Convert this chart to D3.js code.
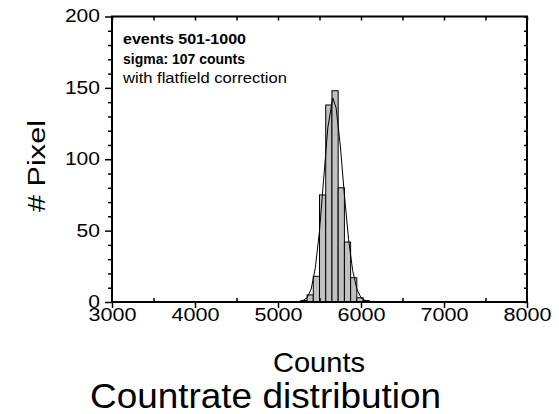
<!DOCTYPE html>
<html>
<head>
<meta charset="utf-8">
<script src="https://cdn.jsdelivr.net/npm/d3@7"></script>
<style>
  body { margin: 0; background: #fff; }
  text { font-family: "Liberation Sans", Arial, sans-serif; fill: #000; }
</style>
</head>
<body>
<script>
// histogram bins (left edge, width 75 counts) and pixel counts
const binStarts = [5275, 5350, 5425, 5500, 5575, 5650, 5725, 5800, 5875, 5950, 6025];
const binWidth = 75;
const binCounts = [1, 5, 18, 75, 138, 148, 80, 42, 17, 3, 1];

// gaussian fit curve
const fitX = [5250, 5300, 5350, 5400, 5450, 5500, 5550, 5600, 5660, 5700, 5750, 5800, 5850, 5900, 5950, 6000, 6050, 6100];
const fitY = [0, 1, 3, 9, 24, 50, 86, 122, 143, 136, 110, 75, 44, 22, 9, 3, 1, 0];

const xMajor = [3000, 4000, 5000, 6000, 7000, 8000];
const xMinor = [3500, 4500, 5500, 6500, 7500];
const yMajor = [0, 50, 100, 150, 200];

const notes = ["events 501-1000", "sigma: 107 counts", "with flatfield correction"];

const W = 559, H = 414;
const pLeft = 112, pRight = 527, pTop = 16.5, pBottom = 302;

const svg = d3.select("body").append("svg").attr("width", W).attr("height", H);

const x = d3.scaleLinear().domain([3000, 8000]).range([pLeft, pRight]);
const y = d3.scaleLinear().domain([0, 200]).range([pBottom, pTop]);

// bars
svg.append("g").selectAll("rect").data(binStarts).enter().append("rect")
    .attr("x", d => x(d))
    .attr("y", (d, i) => y(binCounts[i]))
    .attr("width", d => x(d + binWidth) - x(d))
    .attr("height", (d, i) => y(0) - y(binCounts[i]))
    .attr("fill", "#c0c0c0")
    .attr("stroke", "#000")
    .attr("stroke-width", 1);

// fit line
let line = d3.line().x(d => x(d[0])).y(d => y(d[1]));
svg.append("path").datum(fitX.map((v, i) => [v, fitY[i]]))
    .attr("d", line).attr("fill", "none").attr("stroke", "#000").attr("stroke-width", 1);

// frame
svg.append("rect").attr("x", pLeft).attr("y", pTop).attr("width", pRight - pLeft).attr("height", pBottom - pTop)
    .attr("fill", "none").attr("stroke", "#000").attr("stroke-width", 2);

function plain(g) {
    g.select(".domain").remove();
    g.selectAll(".tick line").attr("stroke", "#000").attr("stroke-width", 1.5);
}

// bottom axis
let xAxis = svg.append("g").attr("transform", `translate(0,${pBottom})`)
    .call(d3.axisBottom(x).tickValues(xMajor).tickSize(6).tickFormat(d3.format("d")));
plain(xAxis);
xAxis.selectAll("text").attr("y", 6).attr("font-size", 18)
    .attr("textLength", d => String(d).length * 12).attr("lengthAdjust", "spacingAndGlyphs");

svg.append("g").attr("transform", `translate(0,${pBottom})`)
    .call(d3.axisTop(x).tickValues(xMinor).tickSize(4).tickFormat(""))
    .call(plain);

// top ticks
svg.append("g").attr("transform", `translate(0,${pTop})`)
    .call(d3.axisBottom(x).tickValues(xMajor.concat(xMinor)).tickSize(4).tickFormat(""))
    .call(plain);

// left axis
let yAxis = svg.append("g").attr("transform", `translate(${pLeft},0)`)
    .call(d3.axisLeft(y).tickValues(yMajor).tickSize(7).tickPadding(5));
plain(yAxis);
yAxis.selectAll("text").attr("font-size", 18).attr("dy", "0.3em")
    .attr("textLength", d => String(d).length * 11.7).attr("lengthAdjust", "spacingAndGlyphs");

const yMinor = d3.range(0, 201, 10).filter(v => v % 50 != 0);
svg.append("g").attr("transform", `translate(${pLeft},0)`)
    .call(d3.axisLeft(y).tickValues(yMinor).tickSize(4).tickFormat(""))
    .call(plain);

// right ticks
svg.append("g").attr("transform", `translate(${pRight},0)`)
    .call(d3.axisLeft(y).tickValues(d3.range(0, 201, 10)).tickSize(3).tickFormat(""))
    .call(plain);

// annotation
const noteLen = [123, 122, 164];
svg.append("g").selectAll("text").data(notes).enter().append("text")
    .attr("x", 123).attr("y", (d, i) => 44 + i * 19.5)
    .attr("font-size", 14)
    .attr("font-weight", (d, i) => i < 2 ? "bold" : "normal")
    .attr("textLength", (d, i) => noteLen[i]).attr("lengthAdjust", "spacingAndGlyphs")
    .text(d => d);

// axis titles
svg.append("text").attr("x", 319).attr("y", 372).attr("text-anchor", "middle")
    .attr("font-size", 28).attr("textLength", 92).attr("lengthAdjust", "spacingAndGlyphs")
    .text("Counts");

svg.append("text").attr("transform", "translate(45,166) rotate(-90)").attr("text-anchor", "middle")
    .attr("font-size", 23).attr("textLength", 92).attr("lengthAdjust", "spacingAndGlyphs")
    .text("# Pixel");

svg.append("text").attr("x", 90).attr("y", 408)
    .attr("font-size", 35).attr("textLength", 351).attr("lengthAdjust", "spacingAndGlyphs")
    .text("Countrate distribution");
</script>
</body>
</html>
